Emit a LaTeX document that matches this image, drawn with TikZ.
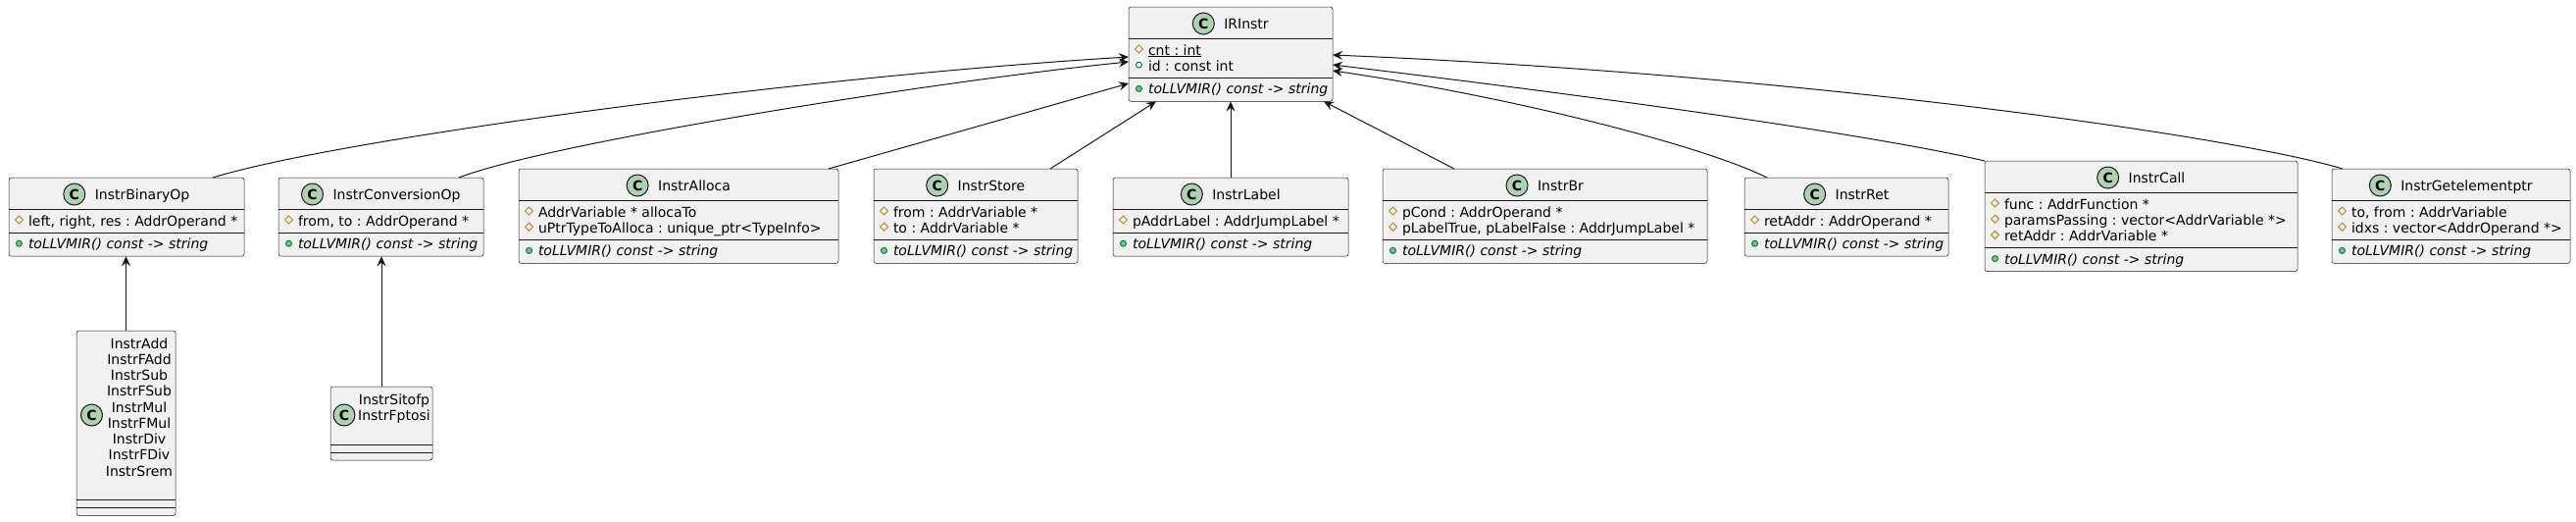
\documentclass[tikz,border=0pt]{standalone}
\usepackage{fontspec}
\setmainfont{DejaVu Sans}
\usetikzlibrary{arrows.meta,calc}
\definecolor{ink}{HTML}{181818}
\definecolor{boxfill}{HTML}{F1F1F1}
\definecolor{spotfill}{HTML}{ADD1B2}
\definecolor{protcol}{HTML}{B38D22}
\definecolor{pubcol}{HTML}{038048}
\definecolor{pubfill}{HTML}{84BE84}
\frenchspacing

\tikzset{
  classbox/.style={draw=ink, fill=boxfill, line width=0.5pt, rounded corners=2.5pt, inner sep=0pt, outer sep=0pt},
  txt/.style={inner sep=0pt, outer sep=0pt, text=black, font=\fontsize{14pt}{16pt}\selectfont},
  mtxt/.style={txt, font=\fontsize{14pt}{16pt}\selectfont\itshape},
  spot/.style={circle, draw=ink, fill=spotfill, line width=1pt, minimum size=22pt, inner sep=0pt, text=black, font=\fontsize{14pt}{14pt}\selectfont\bfseries},
  sepl/.style={draw=ink, line width=0.5pt},
  conn/.style={draw=ink, line width=1pt, -{Stealth[length=10pt,width=9pt,inset=3.5pt]}},
  prot/.pic={\draw[protcol, line width=1pt] (0,-4) -- (4,0) -- (0,4) -- (-4,0) -- cycle;},
  pubf/.pic={\draw[pubcol, line width=1pt] (0,0) circle[radius=3pt];},
  pubm/.pic={\draw[pubcol, fill=pubfill, line width=1pt] (0,0) circle[radius=3pt];},
}

\newcommand\UClass[6]{%
  \pgfmathsetmacro\uH{32+16.2*#5+8+24}%
  \pgfmathsetmacro\uS{32+16.2*#5+8}%
  \node[classbox, minimum width=#4pt, minimum height=\uH pt, anchor=north west] (#1) at (#2,#3) {};
  \node[txt, anchor=base] (#1-title) at ($(#1.north)+(16,22.5)$) {#6};
  \node[spot] (#1-spot) at ($(#1-title.base west)+(-21,-5.5)$) {C};
  \draw[sepl] ($(#1.north west)+(0,32)$) -- ($(#1.north east)+(0,32)$);
  \draw[sepl] ($(#1.north west)+(0,\uS)$) -- ($(#1.north east)+(0,\uS)$);
}
\newcommand\UAttr[4]{%
  \pgfmathsetmacro\uA{49+16.2*#2}%
  \pic at ($(#1.north west)+(10.5,\uA-6)$) {#3};
  \node[txt, anchor=base west] (#1-a#2) at ($(#1.north west)+(20,\uA)$) {#4};
}
\newcommand\UMethod[3]{%
  \pgfmathsetmacro\uM{32+16.2*#2+8+16.5}%
  \pic at ($(#1.north west)+(10.5,\uM-5.5)$) {pubm};
  \node[mtxt, anchor=base west] (#1-m) at ($(#1.north west)+(20,\uM)$) {#3};
}

\begin{document}
\begin{tikzpicture}[x=1pt,y=-1pt]
\fill[white] (0,0) rectangle (2627,531);
\useasboundingbox (0,0) rectangle (2627,531);

% IRInstr
\UClass{ir}{1151}{7}{208}{2}{IRInstr}
\UAttr{ir}{0}{prot}{\underline{cnt : int}}
\UAttr{ir}{1}{pubf}{id : const int}
\UMethod{ir}{2}{toLLVMIR() const -> string}

\UClass{bin}{9}{181}{240}{1}{InstrBinaryOp}
\UAttr{bin}{0}{prot}{left, right, res : AddrOperand *}
\UMethod{bin}{1}{toLLVMIR() const -> string}

\UClass{conv}{284}{181}{209}{1}{InstrConversionOp}
\UAttr{conv}{0}{prot}{from, to : AddrOperand *}
\UMethod{conv}{1}{toLLVMIR() const -> string}

\UClass{alloca}{529}{172}{326}{2}{InstrAlloca}
\UAttr{alloca}{0}{prot}{AddrVariable * allocaTo}
\UAttr{alloca}{1}{prot}{uPtrTypeToAlloca : unique\_ptr<TypeInfo>}
\UMethod{alloca}{2}{toLLVMIR() const -> string}

\UClass{store}{891}{172}{208}{2}{InstrStore}
\UAttr{store}{0}{prot}{from : AddrVariable *}
\UAttr{store}{1}{prot}{to : AddrVariable *}
\UMethod{store}{2}{toLLVMIR() const -> string}

\UClass{label}{1135}{181}{240}{1}{InstrLabel}
\UAttr{label}{0}{prot}{pAddrLabel : AddrJumpLabel *}
\UMethod{label}{1}{toLLVMIR() const -> string}

\UClass{br}{1410}{172}{331}{2}{InstrBr}
\UAttr{br}{0}{prot}{pCond : AddrOperand *}
\UAttr{br}{1}{prot}{pLabelTrue, pLabelFalse : AddrJumpLabel *}
\UMethod{br}{2}{toLLVMIR() const -> string}

\UClass{ret}{1779}{181}{208}{1}{InstrRet}
\UAttr{ret}{0}{prot}{retAddr : AddrOperand *}
\UMethod{ret}{1}{toLLVMIR() const -> string}

\UClass{call}{2024}{164}{319}{3}{InstrCall}
\UAttr{call}{0}{prot}{func : AddrFunction *}
\UAttr{call}{1}{prot}{paramsPassing : vector<AddrVariable *>}
\UAttr{call}{2}{prot}{retAddr : AddrVariable *}
\UMethod{call}{3}{toLLVMIR() const -> string}

\UClass{gep}{2378}{172}{243}{2}{InstrGetelementptr}
\UAttr{gep}{0}{prot}{to, from : AddrVariable}
\UAttr{gep}{1}{prot}{idxs : vector<AddrOperand *>}
\UMethod{gep}{2}{toLLVMIR() const -> string}

% InstrAdd group
\node[classbox, minimum width=101pt, minimum height=188.5pt, anchor=north west] (add) at (78,337) {};
\draw[sepl] ($(add.north west)+(0,172)$) -- ($(add.north east)+(0,172)$);
\draw[sepl] ($(add.north west)+(0,180)$) -- ($(add.north east)+(0,180)$);
\node[spot] (add-spot) at ($(add.north west)+(15.5,86)$) {C};
\foreach \t [count=\i from 0] in {InstrAdd,InstrFAdd,InstrSub,InstrFSub,InstrMul,InstrFMul,InstrDiv,InstrFDiv,InstrSrem}
  \node[txt, anchor=base] (add-l\i) at ($(add.north west)+(64,{18+16.25*\i})$) {\t};

% InstrSitofp group
\node[classbox, minimum width=104pt, minimum height=75pt, anchor=north west] (sit) at (337,394) {};
\draw[sepl] ($(sit.north west)+(0,59)$) -- ($(sit.north east)+(0,59)$);
\draw[sepl] ($(sit.north west)+(0,67)$) -- ($(sit.north east)+(0,67)$);
\node[spot] (sit-spot) at ($(sit.north west)+(14,29)$) {C};
\node[txt, anchor=base] (sit-l0) at ($(sit.north west)+(65,18)$) {InstrSitofp};
\node[txt, anchor=base] (sit-l1) at ($(sit.north west)+(65,34)$) {InstrFptosi};

% connectors
\draw[conn] ($(bin.north west)+(208,0)$) .. controls +(130,-40) and +(-330,20) .. ($(ir.north west)+(0,51)$);
\draw[conn] ($(conv.north west)+(184,0)$) .. controls +(90,-35) and +(-200,20) .. ($(ir.north west)+(0,56)$);
\draw[conn] ($(alloca.north west)+(316,0)$) -- ($(ir.north west)+(0,78)$);
\draw[conn] ($(store.north west)+(180,0)$) -- ($(ir.south west)+(28,0)$);
\draw[conn] (label.north) -- (ir.south);
\draw[conn] ($(br.north west)+(73,0)$) -- ($(ir.south east)+(-9,0)$);
\draw[conn] ($(ret.north west)+(23,0)$) .. controls +(-62,-31) and +(191,28) .. ($(ir.north east)+(0,65)$);
\draw[conn] (call.north west) .. controls +(-124,-29) and +(241,29) .. ($(ir.north east)+(0,59)$);
\draw[conn] ($(gep.north west)+(11,0)$) .. controls +(-110,-33) and +(480,20) .. ($(ir.north east)+(0,49)$);
\draw[conn] (add.north) -- (add.north |- bin.south);
\draw[conn] (sit.north) -- (sit.north |- conv.south);
\end{tikzpicture}
\end{document}
